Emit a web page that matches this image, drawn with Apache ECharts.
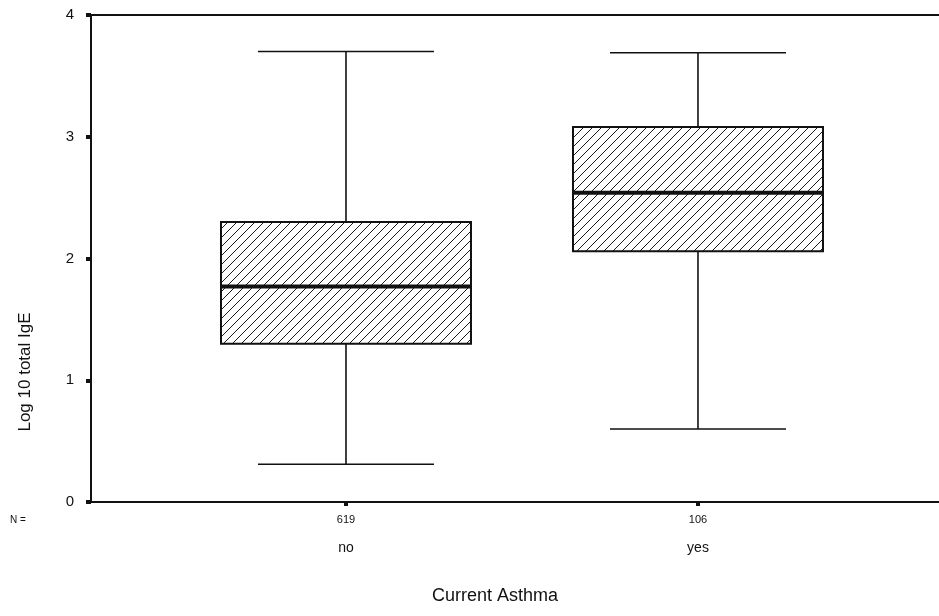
<!DOCTYPE html>
<html>
<head>
<meta charset="utf-8">
<script src="https://cdn.jsdelivr.net/npm/echarts@6/dist/echarts.min.js"></script>
<style>html,body{margin:0;padding:0;background:#fff;}#c{width:939px;height:616px;}</style>
</head>
<body>
<div id="c"></div>
<script>
const categories = ['no', 'yes'];
const counts = [619, 106];
const mins = [0.31, 0.60];
const q1s = [1.30, 2.06];
const medians = [1.77, 2.54];
const q3s = [2.30, 3.08];
const maxs = [3.70, 3.69];
const yTicks = [0, 1, 2, 3, 4];

const positions = categories.map((c, i) => i + 1);
const data = categories.map((c, i) => [positions[i], mins[i], q1s[i], medians[i], q3s[i], maxs[i]]);

// hatch pattern
const pc = document.createElement('canvas');
const S = 9;
pc.width = S; pc.height = S;
const g = pc.getContext('2d');
g.strokeStyle = '#1a1a1a';
g.lineWidth = 1;
g.beginPath();
g.moveTo(-1, S + 1); g.lineTo(S + 1, -1);
g.moveTo(-1, 1); g.lineTo(1, -1);
g.moveTo(S - 1, S + 1); g.lineTo(S + 1, S - 1);
g.stroke();
const hatch = { image: pc, repeat: 'repeat' };

const chart = echarts.init(document.getElementById('c'), null, { renderer: 'canvas' });
const font = 'Liberation Sans, Arial, sans-serif';
const xMin = 0.2756, xMax = 2.6847;

chart.setOption({
  animation: false,
  backgroundColor: '#fff',
  grid: { left: 91, right: 0, top: 15, bottom: 114, show: false },
  xAxis: [{
    type: 'value', min: xMin, max: xMax,
    splitLine: { show: false },
    axisLine: { lineStyle: { color: '#111', width: 2 } },
    axisTick: { show: true, customValues: positions, length: 4, lineStyle: { color: '#111', width: 4 } },
    axisLabel: {
      customValues: positions, margin: 10, color: '#111', fontFamily: font,
      formatter: function (v) {
        const i = Math.round(v) - 1;
        if (i < 0 || i >= categories.length) return '';
        return '{n|' + counts[i] + '}\n{c|' + categories[i] + '}';
      },
      rich: {
        n: { fontSize: 11, lineHeight: 16, fontFamily: font, color: '#111' },
        c: { fontSize: 14, lineHeight: 40, fontFamily: font, color: '#111' }
      }
    }
  }, {
    type: 'value', position: 'top', min: xMin, max: xMax,
    splitLine: { show: false },
    axisLine: { show: true, lineStyle: { color: '#111', width: 2 } },
    axisTick: { show: false },
    axisLabel: { show: false }
  }],
  yAxis: {
    type: 'value', min: yTicks[0], max: yTicks[yTicks.length - 1], interval: 1,
    splitLine: { show: false },
    axisLine: { show: true, lineStyle: { color: '#111', width: 2 } },
    axisTick: { show: true, length: 5, lineStyle: { color: '#111', width: 4 } },
    axisLabel: { fontSize: 15, margin: 17, color: '#111', fontFamily: font }
  },
  graphic: [
    { type: 'text', left: 10, top: 515, style: { text: 'N =', fontSize: 10, fontFamily: font, fill: '#111' } },
    { type: 'text', x: 495, y: 596, style: { text: 'Current Asthma', fontSize: 18, fontFamily: font, fill: '#111', align: 'center', verticalAlign: 'middle' } },
    { type: 'text', x: 25, y: 372, rotation: Math.PI / 2, style: { text: 'Log 10 total IgE', fontSize: 17, fontFamily: font, fill: '#111', align: 'center', verticalAlign: 'middle' } }
  ],
  series: [{
    type: 'custom',
    xAxisIndex: 0,
    data: data,
    encode: { x: 0, y: [1, 2, 3, 4, 5] },
    renderItem: function (params, api) {
      const x = api.value(0);
      const pMin = api.coord([x, api.value(1)]);
      const pQ1 = api.coord([x, api.value(2)]);
      const pMed = api.coord([x, api.value(3)]);
      const pQ3 = api.coord([x, api.value(4)]);
      const pMax = api.coord([x, api.value(5)]);
      const cx = pMed[0];
      const hb = 125, hc = 88;
      const ls = { stroke: '#111', lineWidth: 1.6 };
      return {
        type: 'group',
        children: [
          { type: 'line', shape: { x1: cx, y1: pMax[1], x2: cx, y2: pQ3[1] }, style: ls },
          { type: 'line', shape: { x1: cx, y1: pQ1[1], x2: cx, y2: pMin[1] }, style: ls },
          { type: 'line', shape: { x1: cx - hc, y1: pMax[1], x2: cx + hc, y2: pMax[1] }, style: ls },
          { type: 'line', shape: { x1: cx - hc, y1: pMin[1], x2: cx + hc, y2: pMin[1] }, style: ls },
          { type: 'rect', shape: { x: cx - hb, y: pQ3[1], width: 2 * hb, height: pQ1[1] - pQ3[1] }, style: { fill: hatch, stroke: '#111', lineWidth: 2 } },
          { type: 'line', shape: { x1: cx - hb, y1: pMed[1], x2: cx + hb, y2: pMed[1] }, style: { stroke: '#111', lineWidth: 4 } }
        ]
      };
    }
  }]
});
</script>
</body>
</html>
